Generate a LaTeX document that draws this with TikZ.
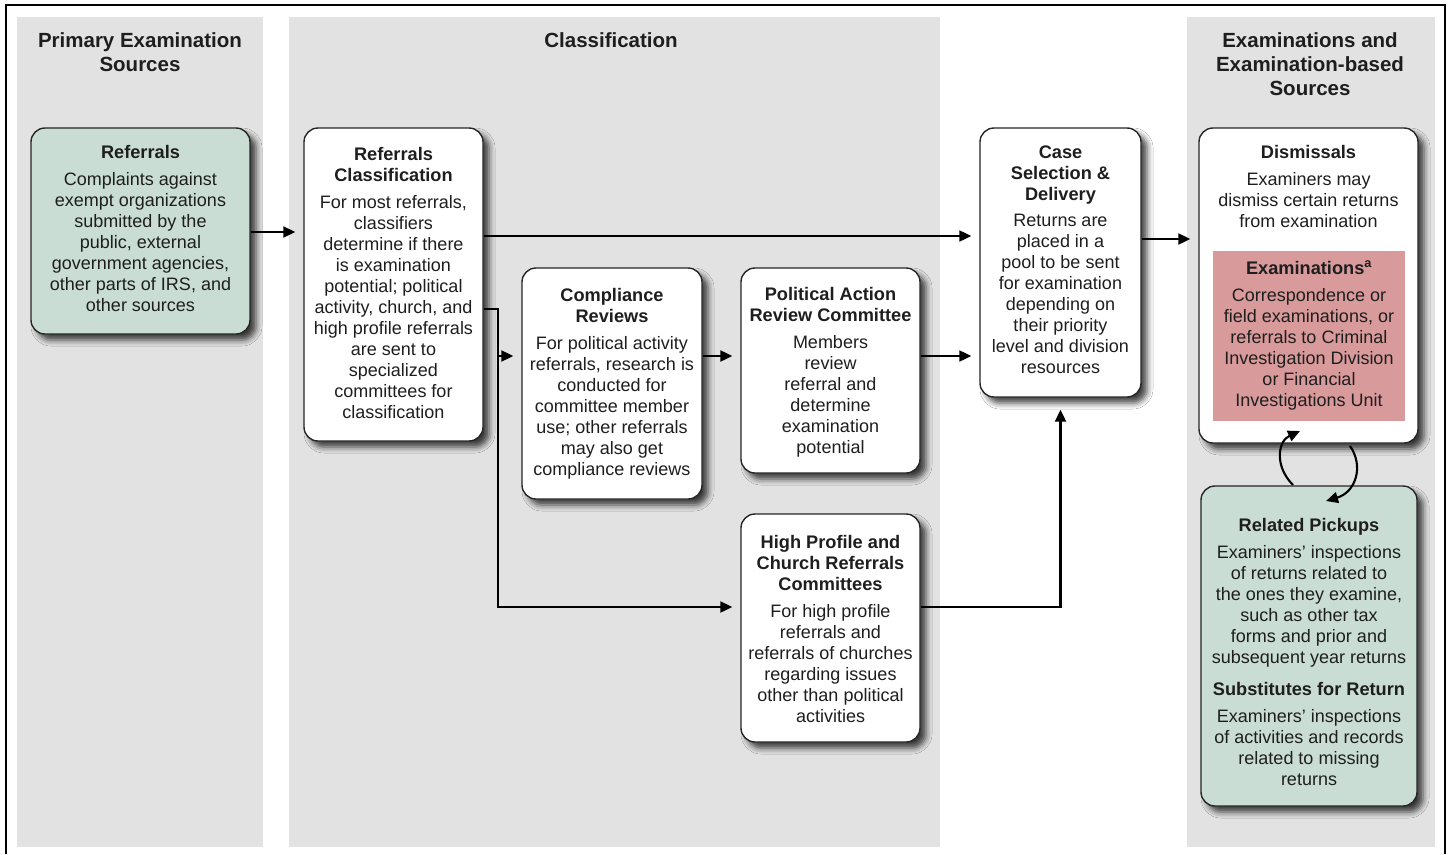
\documentclass[tikz,border=0pt]{standalone}
\usepackage{fontspec}
\setmainfont{Liberation Sans}
\usetikzlibrary{arrows.meta,shadows.blur,calc}
\definecolor{panelgray}{HTML}{E2E2E2}
\definecolor{boxgreen}{HTML}{C9DDD5}
\definecolor{boxpink}{HTML}{D99A9B}
\definecolor{txtc}{HTML}{1E1E1E}
\tikzset{
 panel/.style={fill=panelgray, draw=none},
 box/.style={draw=black!85, line width=1.4pt, rounded corners=14pt, fill=white, inner sep=0pt,
   blur shadow={shadow xshift=6pt, shadow yshift=-6pt, shadow blur radius=6pt, shadow opacity=75}},
 greenbox/.style={box, fill=boxgreen},
 hdr/.style={font=\fontsize{20.5}{24}\selectfont\bfseries, align=center, anchor=base, inner sep=0pt, text=txtc},
 ttl/.style={font=\fontsize{18.2}{21}\selectfont\bfseries, align=center, anchor=base, inner sep=0pt, text=txtc},
 txt/.style={font=\fontsize{18}{21}\selectfont, align=center, anchor=base, inner sep=0pt, text=txtc},
 conn/.style={line width=2.1pt},
 arr/.style={conn, -{Triangle[length=12pt,width=11pt]}, shorten >=8pt},
 curarr/.style={conn, -{Triangle[length=12pt,width=11pt]}},
}
\begin{document}
\begin{tikzpicture}[x=1pt,y=-1pt]
\useasboundingbox (0,0) rectangle (1448,854);
\fill[white] (0,0) rectangle (1448,854);
% frame
\draw[line width=1.2pt] (6,854) -- (6,5) -- (1445,5) -- (1445,854);
% panels
\fill[panel] (17,17) rectangle (263,847);
\fill[panel] (289,17) rectangle (940,847);
\fill[panel] (1187,17) rectangle (1435,847);
% headers (anchor = baseline of last line)
\node[hdr] (h1) at (140,71) {Primary Examination\\Sources};
\node[hdr] (h2) at (611,47) {Classification};
\node[hdr] (h3) at (1310,95) {Examinations and\\Examination-based\\Sources};
% boxes
\node[greenbox, minimum width=219pt, minimum height=206pt] (ref) at (140.5,231) {};
\node[box, minimum width=179pt, minimum height=313pt] (rc) at (393.5,284.5) {};
\node[box, minimum width=180pt, minimum height=231pt] (cr) at (612,383.5) {};
\node[box, minimum width=179pt, minimum height=205pt] (pa) at (830.5,370.5) {};
\node[box, minimum width=179pt, minimum height=228pt] (hp) at (830.5,628) {};
\node[box, minimum width=161pt, minimum height=269pt] (cs) at (1060.5,262.5) {};
\node[box, minimum width=219pt, minimum height=315pt] (dis) at (1308.5,285.5) {};
\node[fill=boxpink, draw=none, inner sep=0pt, minimum width=192pt, minimum height=170pt] (ex) at (1309,336) {};
\node[greenbox, minimum width=216pt, minimum height=320pt] (rp) at (1309,646) {};
% texts (anchor = baseline of last line)
\node[ttl] (refT) at (140.5,158) {Referrals};
\node[txt] (refB) at (140.5,311) {Complaints against\\exempt organizations\\submitted by the\\public, external\\government agencies,\\other parts of IRS, and\\other sources};
\node[ttl] (rcT) at (393.5,181) {Referrals\\Classification};
\node[txt] (rcB) at (393.5,418) {For most referrals,\\classifiers\\determine if there\\is examination\\potential; political\\activity, church, and\\high profile referrals\\are sent to\\specialized\\committees for\\classification};
\node[ttl] (crT) at (612,322) {Compliance\\Reviews};
\node[txt] (crB) at (612,475) {For political activity\\referrals, research is\\conducted for\\committee member\\use; other referrals\\may also get\\compliance reviews};
\node[ttl] (paT) at (830.5,321) {Political Action\\Review Committee};
\node[txt] (paB) at (830.5,453) {Members\\review\\referral and\\determine\\examination\\potential};
\node[ttl] (hpT) at (830.5,590) {High Profile and\\Church Referrals\\Committees};
\node[txt] (hpB) at (830.5,722) {For high profile\\referrals and\\referrals of churches\\regarding issues\\other than political\\activities};
\node[ttl] (csT) at (1060.5,200) {Case\\Selection \&\\Delivery};
\node[txt] (csB) at (1060.5,373) {Returns are\\placed in a\\pool to be sent\\for examination\\depending on\\their priority\\level and division\\resources};
\node[ttl] (disT) at (1308.5,158) {Dismissals};
\node[txt] (disB) at (1308.5,227) {Examiners may\\dismiss certain returns\\from examination};
\node[ttl] (exT) at (1309,274) {Examinations\textsuperscript{a}};
\node[txt] (exB) at (1309,406) {Correspondence or\\field examinations, or\\referrals to Criminal\\Investigation Division\\or Financial\\Investigations Unit};
\node[ttl] (rpT) at (1309,531) {Related Pickups};
\node[txt] (rpB) at (1309,663) {Examiners’ inspections\\of returns related to\\the ones they examine,\\such as other tax\\forms and prior and\\subsequent year returns};
\node[ttl] (sfT) at (1309,695) {Substitutes for Return};
\node[txt] (sfB) at (1309,785) {Examiners’ inspections\\of activities and records\\related to missing\\returns};
% connectors
\coordinate (jn) at (498,309);
\draw[arr] (ref.east |- 0,232) -- (rc.west |- 0,232);
\draw[arr] (rc.east |- 0,236) -- (cs.west |- 0,236);
\draw[arr] (rc.east |- jn) -- (jn) |- (hp.west |- 0,607);
\draw[arr] (jn |- 0,356) -- (cr.west |- 0,356);
\draw[arr] (cr.east |- 0,356) -- (pa.west |- 0,356);
\draw[arr] (pa.east |- 0,356) -- (cs.west |- 0,356);
\draw[arr, shorten >=12pt] (hp.east |- 0,607) -| (cs.south);
\draw[arr] (cs.east |- 0,239) -- (dis.west |- 0,239);
% loop arrows between examinations and related pickups
\coordinate (l1) at (1293,485);
\coordinate (l2) at (1300,431);
\coordinate (r1) at (1350,446);
\coordinate (r2) at (1326,501);
\draw[curarr] (l1) .. controls (1274,466) and (1278,441) .. (l2);
\draw[curarr] (r1) .. controls (1364,466) and (1356,492) .. (r2);
\end{tikzpicture}
\end{document}
